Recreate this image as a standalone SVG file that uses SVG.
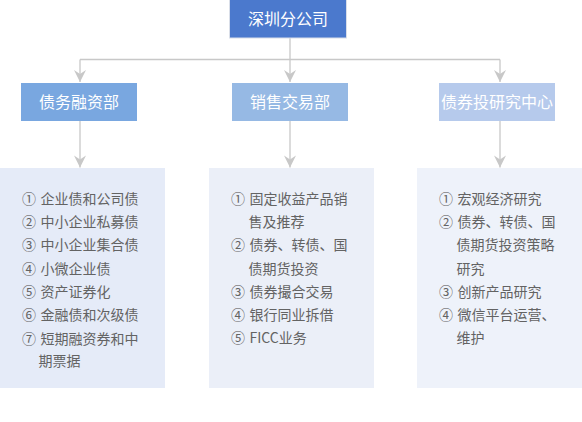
<svg xmlns="http://www.w3.org/2000/svg" width="582" height="422" viewBox="0 0 582 422">
<style>
.hd{font-family:"Noto Sans CJK SC","Noto Sans",sans-serif;font-size:16px;fill:#ffffff;text-anchor:middle}
.it{font-family:"Noto Sans CJK SC","Noto Sans",sans-serif;font-size:14px;fill:#636363}
.cn{fill:none;stroke:#c8c8c8;stroke-width:1.3}
</style>
<defs>
<marker id="ah" viewBox="-13 -7 14 14" markerWidth="14" markerHeight="14" refX="0" refY="0" markerUnits="userSpaceOnUse" orient="auto">
<path d="M-12,-6 L-8,0 L-12,6 L0,0 Z" fill="#c8c8c8"/>
</marker>
</defs>
<rect width="582" height="422" fill="#ffffff"/>
<g id="connectors">
<path class="cn" d="M290,38 L290,82" marker-end="url(#ah)"/>
<path class="cn" d="M80,59.5 L500,59.5"/>
<path class="cn" d="M80,59.5 L80,82" marker-end="url(#ah)"/>
<path class="cn" d="M500,59.5 L500,82" marker-end="url(#ah)"/>
<path class="cn" d="M80,121 L80,167.5" marker-end="url(#ah)"/>
<path class="cn" d="M290,121 L290,167.5" marker-end="url(#ah)"/>
<path class="cn" d="M500,121 L500,167.5" marker-end="url(#ah)"/>
</g>
<g id="root">
<rect x="229.5" y="-1" width="117" height="39" fill="#4b79cd" stroke="#d9dee8" stroke-width="1"/>
<text class="hd" x="288" y="25">深圳分公司</text>
</g>
<g id="dept1">
<rect x="21" y="83" width="116" height="38" fill="#79a7e0"/>
<text class="hd" x="79" y="108">债务融资部</text>
</g>
<g id="dept2">
<rect x="232" y="83" width="116" height="38" fill="#96b9e4"/>
<text class="hd" x="290" y="108">销售交易部</text>
</g>
<g id="dept3">
<rect x="439" y="83" width="116" height="38" fill="#b6caec"/>
<text class="hd" x="497" y="108">债券投研究中心</text>
</g>
<g id="detail1">
<rect x="0" y="168" width="165" height="220" fill="#e5ebf8"/>
<text class="it"><tspan x="22" y="203.5">①</tspan><tspan x="40.5" y="203.5">企业债和公司债</tspan></text>
<text class="it"><tspan x="22" y="226.8">②</tspan><tspan x="40.5" y="226.8">中小企业私募债</tspan></text>
<text class="it"><tspan x="22" y="250.2">③</tspan><tspan x="40.5" y="250.2">中小企业集合债</tspan></text>
<text class="it"><tspan x="22" y="273.5">④</tspan><tspan x="40.5" y="273.5">小微企业债</tspan></text>
<text class="it"><tspan x="22" y="296.8">⑤</tspan><tspan x="40.5" y="296.8">资产证券化</tspan></text>
<text class="it"><tspan x="22" y="320.2">⑥</tspan><tspan x="40.5" y="320.2">金融债和次级债</tspan></text>
<text class="it"><tspan x="22" y="343.5">⑦</tspan><tspan x="40.5" y="343.5">短期融资券和中</tspan></text>
<text class="it" x="38.5" y="366">期票据</text>
</g>
<g id="detail2">
<rect x="209" y="168" width="165" height="220" fill="#ebeff8"/>
<text class="it"><tspan x="231" y="203.5">①</tspan><tspan x="249.5" y="203.5">固定收益产品销</tspan></text>
<text class="it" x="248.5" y="226.8">售及推荐</text>
<text class="it"><tspan x="231" y="250.2">②</tspan><tspan x="249.5" y="250.2">债券、转债、国</tspan></text>
<text class="it" x="248.5" y="273.5">债期货投资</text>
<text class="it"><tspan x="231" y="296.5">③</tspan><tspan x="249.5" y="296.5">债券撮合交易</tspan></text>
<text class="it"><tspan x="231" y="319.5">④</tspan><tspan x="249.5" y="319.5">银行同业拆借</tspan></text>
<text class="it"><tspan x="231" y="342.5">⑤</tspan><tspan x="249.5" y="342.5">FICC业务</tspan></text>
</g>
<g id="detail3">
<rect x="417" y="168" width="165" height="220" fill="#eef2fa"/>
<text class="it"><tspan x="439" y="203.5">①</tspan><tspan x="457.5" y="203.5">宏观经济研究</tspan></text>
<text class="it"><tspan x="439" y="226.8">②</tspan><tspan x="457.5" y="226.8">债券、转债、国</tspan></text>
<text class="it" x="456.5" y="250.2">债期货投资策略</text>
<text class="it" x="456.5" y="273.5">研究</text>
<text class="it"><tspan x="439" y="296.5">③</tspan><tspan x="457.5" y="296.5">创新产品研究</tspan></text>
<text class="it"><tspan x="439" y="319.5">④</tspan><tspan x="457.5" y="319.5">微信平台运营、</tspan></text>
<text class="it" x="456.5" y="342.5">维护</text>
</g>
</svg>
